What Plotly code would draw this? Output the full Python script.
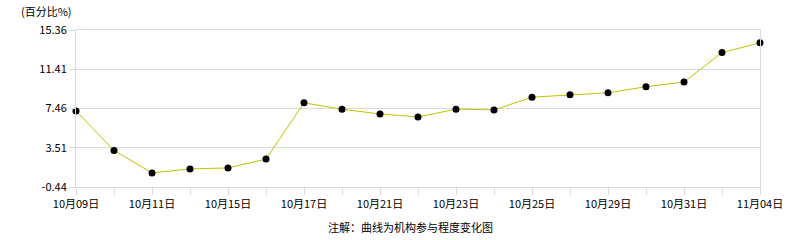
import plotly.graph_objects as go

dates = ["10月09日", "10月10日", "10月11日", "10月14日", "10月15日", "10月16日",
         "10月17日", "10月18日", "10月21日", "10月22日", "10月23日", "10月24日",
         "10月25日", "10月28日", "10月29日", "10月30日", "10月31日", "11月01日", "11月04日"]
values = [7.22, 3.24, 0.98, 1.38, 1.48, 2.37, 8.03, 7.39, 6.91, 6.61, 7.39, 7.32,
          8.60, 8.84, 9.04, 9.65, 10.13, 13.09, 14.07]
y_ticks = [-0.44, 3.51, 7.46, 11.41, 15.36]
y_ticktext = ["-0.44", "3.51", "7.46", "11.41", "15.36"]
x_ticktext = [d if i % 2 == 0 else "" for i, d in enumerate(dates)]

FONT = "Noto Sans CJK SC, SimSun, sans-serif"
GRID = "#dcdcdc"

fig = go.Figure()
fig.add_trace(go.Scatter(
    x=list(range(len(dates))), y=values, mode="lines+markers",
    line=dict(color="#c2c200", width=1),
    marker=dict(color="#000000", size=7),
    cliponaxis=False, hoverinfo="skip",
))

fig.update_layout(
    width=786, height=240,
    margin=dict(l=76, r=26, t=30, b=53),
    paper_bgcolor="#ffffff", plot_bgcolor="#ffffff",
    showlegend=False,
    font=dict(family=FONT, size=11, color="#000000"),
    xaxis=dict(
        range=[0, len(dates) - 1], automargin=False,
        tickmode="array", tickvals=list(range(len(dates))), ticktext=x_ticktext,
        ticks="outside", ticklen=7, tickcolor=GRID,
        showgrid=False, zeroline=False,
        showline=True, linecolor=GRID, linewidth=1, mirror=True,
        tickfont=dict(family=FONT, size=11),
    ),
    yaxis=dict(
        range=[-0.44, 15.36], automargin=False,
        tickmode="array", tickvals=y_ticks, ticktext=y_ticktext,
        ticks="outside", ticklen=6, tickcolor=GRID,
        showgrid=True, gridcolor=GRID, gridwidth=1, zeroline=False,
        showline=True, linecolor=GRID, linewidth=1, mirror=True,
        tickfont=dict(family=FONT, size=11),
    ),
    annotations=[
        dict(text="(百分比%)", xref="paper", yref="paper", x=(19 - 76) / 684, y=1 + 19 / 157,
             xanchor="left", yanchor="middle", showarrow=False,
             font=dict(family=FONT, size=11)),
        dict(text="注解：曲线为机构参与程度变化图", xref="paper", yref="paper",
             x=(410 - 76) / 684, y=-(227 - 187) / 157,
             xanchor="center", yanchor="middle", showarrow=False,
             font=dict(family=FONT, size=11)),
    ],
)

fig.write_html("out.html")
